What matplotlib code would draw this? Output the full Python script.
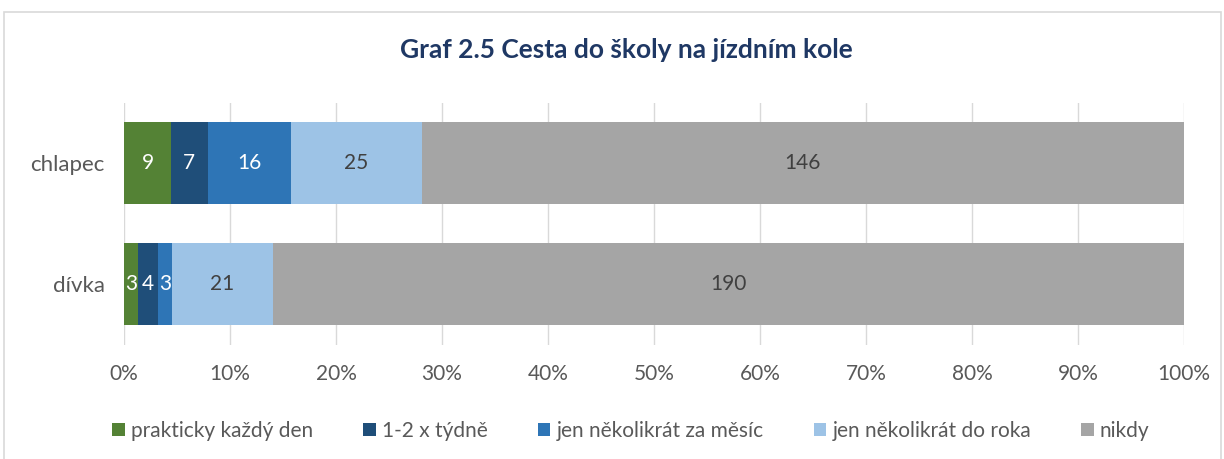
import numpy as np
import matplotlib.pyplot as plt
from matplotlib.patches import Rectangle

# data
groups = ['dívka', 'chlapec']
series = ['prakticky každý den', '1-2 x týdně', 'jen několikrát za měsíc',
          'jen několikrát do roka', 'nikdy']
values = np.array([
    [3, 9],      # prakticky každý den
    [4, 7],      # 1-2 x týdně
    [3, 16],     # jen několikrát za měsíc
    [21, 25],    # jen několikrát do roka
    [190, 146],  # nikdy
])
colors = ['#548235', '#1F4E79', '#2E75B6', '#9DC3E6', '#A5A5A5']
label_colors = ['white', 'white', 'white', '#404040', '#404040']

plt.rcParams['font.family'] = ['Lato', 'DejaVu Sans']

fig = plt.figure(figsize=(12.24, 4.59), dpi=100)
ax = fig.add_axes([124/1224, 1-344.5/459, 1060/1224, 242/459])

# frame of the chart area
fig.patches.append(Rectangle((4/1224, -0.05), 1217/1224, 1-12/459+0.05,
                             transform=fig.transFigure, fill=False,
                             edgecolor='#D9D9D9', lw=1.2))

totals = values.sum(axis=0)
shares = values / totals * 100
y = np.arange(len(groups))
left = np.zeros(len(groups))
for i, name in enumerate(series):
    ax.barh(y, shares[i], left=left, height=0.68, color=colors[i], label=name, zorder=3)
    for j in range(len(groups)):
        ax.text(left[j] + shares[i][j]/2, y[j], str(values[i][j]), ha='center', va='center',
                color=label_colors[i], fontsize=15, zorder=4)
    left += shares[i]

ax.set_xlim(0, 100)
ax.set_ylim(-0.5, 1.5)
ax.set_xticks(np.arange(0, 101, 10))
ax.set_xticklabels([f'{t}%' for t in range(0, 101, 10)])
ax.set_yticks(y)
ax.set_yticklabels(groups)
ax.grid(axis='x', color='#D9D9D9', lw=1, zorder=0)
for s in ax.spines.values():
    s.set_visible(False)
ax.tick_params(length=0, labelsize=15, colors='#595959', pad=14)
ax.tick_params(axis='y', labelsize=16, pad=14)

fig.text(626/1224, 1-50/459, 'Graf 2.5 Cesta do školy na jízdním kole', ha='center', va='center',
         fontsize=19, fontweight='bold', color='#1F3864')

fig.legend(loc='center', bbox_to_anchor=(631/1224, 1-431/459), ncol=5, frameon=False,
           fontsize=15, labelcolor='#595959', handlelength=0.6, handleheight=0.6,
           handletextpad=0.3, columnspacing=2.4)

fig.savefig('out.png', dpi=100)
